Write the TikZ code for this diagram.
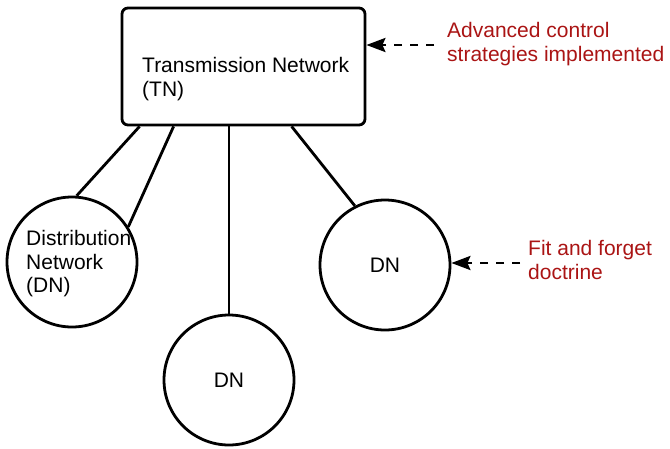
\documentclass[tikz,border=0pt]{standalone}
\usepackage{fontspec}
\setmainfont{Liberation Sans}
\usetikzlibrary{arrows.meta,calc}
\definecolor{lblred}{RGB}{170,20,20}
\begin{document}
\begin{tikzpicture}[x=1pt,y=-1pt,
  every node/.style={font=\fontsize{21}{23.5}\selectfont},
  box/.style={draw,line width=2.8pt,rounded corners=6pt,minimum width=243pt,minimum height=117pt,inner sep=0pt},
  dnc/.style={draw,circle,line width=2.8pt,minimum size=130pt,inner sep=0pt},
  txt/.style={align=left,inner sep=0pt},
  note/.style={txt,text=lblred},
  link/.style={line width=2.8pt},
  hint/.style={line width=2.8pt,dash pattern=on 8pt off 8pt,-{Stealth[length=19pt,width=14pt,inset=3pt]}}]
\useasboundingbox (0,0) rectangle (670,448);
\node[box] (TN) at (243.5,66.5) {};
\node[txt,anchor=west] (TNt) at (142,79) {Transmission Network\\(TN)};
\node[dnc] (dn1) at (72,262) {};
\node[txt,anchor=west] (dn1t) at (26,264) {Distribution\\Network\\(DN)};
\node[dnc] (dn2) at (229,380) {DN};
\node[dnc] (dn3) at (385,265) {DN};
\coordinate (p1) at ($(TN.south west)+(19,0)$);
\coordinate (p2) at ($(TN.south west)+(53,0)$);
\coordinate (p4) at ($(TN.south west)+(171,0)$);
\draw[link] (p1) -- (dn1.86);
\draw[link] (p2) -- (dn1.32);
\draw[link] (TN.south -| dn2.north) -- (dn2.north);
\draw[link] (p4) -- (dn3.117);
\node[note,anchor=west] (n1) at (447,44) {Advanced control\\strategies implemented};
\coordinate (s1) at (434,45);
\draw[hint] (s1) -- (s1 -| TN.east);
\node[note,anchor=west] (n2) at (528,260) {Fit and forget\\doctrine};
\coordinate (s2) at (520,263);
\draw[hint] (s2) -- (s2 -| dn3.east);
\end{tikzpicture}
\end{document}
